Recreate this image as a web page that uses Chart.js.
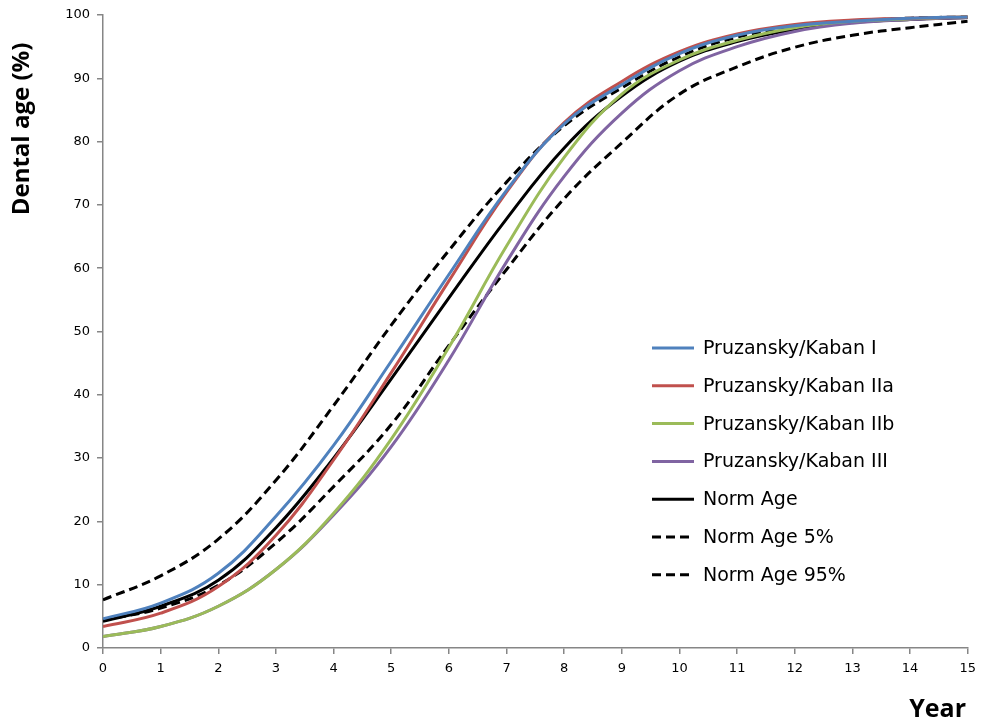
<!DOCTYPE html>
<html lang="en">
<head>
<meta charset="UTF-8">
<title>Dental age</title>
<script src="https://cdn.jsdelivr.net/npm/chart.js"></script>
<style>
  body { margin: 0; background: #fff; }
</style>
</head>
<body>
<canvas id="myChart" width="983" height="723"></canvas>
<script>
// years 0..15
const years = [0, 1, 2, 3, 4, 5, 6, 7, 8, 9, 10, 11, 12, 13, 14, 15];

const kabanI   = [4.6, 7.1, 11.8, 20.8, 32.0, 45.3, 59.0, 72.3, 82.8, 89.0, 93.9, 96.8, 98.3, 99.0, 99.5, 99.7];
const kabanIIa = [3.4, 5.5, 9.7, 17.8, 29.7, 43.5, 58.0, 72.0, 83.0, 89.5, 94.2, 97.0, 98.5, 99.2, 99.5, 99.7];
const kabanIIb = [1.8, 3.4, 6.6, 12.4, 21.3, 33.0, 47.5, 63.5, 77.5, 87.5, 92.9, 96.0, 98.0, 99.0, 99.4, 99.7];
const kabanIII = [1.8, 3.4, 6.6, 12.4, 21.0, 31.8, 45.5, 61.0, 74.5, 84.5, 91.2, 95.0, 97.4, 98.7, 99.3, 99.6];
const normAge  = [4.2, 6.6, 10.7, 19.0, 30.0, 42.5, 55.3, 67.8, 79.0, 87.2, 92.7, 95.8, 97.7, 98.8, 99.3, 99.6];
const norm5    = [7.6, 11.4, 17.2, 26.5, 38.3, 51.0, 62.8, 73.6, 82.5, 88.5, 93.4, 96.5, 98.1, 99.0, 99.5, 99.7];
const norm95   = [4.4, 6.3, 9.9, 16.6, 25.5, 35.3, 47.8, 59.8, 71.0, 79.8, 87.5, 91.8, 94.9, 96.8, 98.0, 99.0];

const pts = arr => arr.map((v, i) => ({ x: years[i], y: v }));
const axisGray = '#868686';

function series(label, data, color, dashed) {
    return {
        label: label,
        data: pts(data),
        borderColor: color,
        backgroundColor: color,
        borderWidth: 3,
        borderDash: dashed ? [9, 5] : [],
        pointRadius: 0,
        tension: 0.4,
        fill: false
    };
}

// draws the legend inside the plot and the two bold axis titles
const extras = {
    id: 'extras',
    afterDraw(chart) {
        const ctx = chart.ctx;
        ctx.save();
        chart.data.datasets.forEach((ds, i) => {
            const y = 348 + i * 37.8;
            ctx.beginPath();
            ctx.strokeStyle = ds.borderColor;
            ctx.lineWidth = 3;
            ctx.setLineDash(ds.borderDash.length ? [9, 5] : []);
            ctx.moveTo(652, y);
            ctx.lineTo(694, y);
            ctx.stroke();
            ctx.setLineDash([]);
            ctx.fillStyle = '#000';
            ctx.font = '19px "DejaVu Sans"';
            ctx.textAlign = 'left';
            ctx.textBaseline = 'middle';
            ctx.fillText(ds.label, 703, y + 1);
        });

        ctx.font = 'bold 25px "Open Sans"';
        ctx.fillStyle = '#000';
        ctx.textAlign = 'right';
        ctx.textBaseline = 'middle';
        ctx.fillText('Year', 966, 710);

        ctx.translate(22, 129);
        ctx.rotate(-Math.PI / 2);
        ctx.textAlign = 'center';
        ctx.font = 'bold 24px "Open Sans"';
        ctx.fillText('Dental age (%)', 0, 0);
        ctx.restore();
    }
};

const ctx = document.getElementById('myChart').getContext('2d');
new Chart(ctx, {
    type: 'line',
    data: {
        datasets: [
            series('Pruzansky/Kaban I', kabanI, '#4F81BD', false),
            series('Pruzansky/Kaban IIa', kabanIIa, '#C0504D', false),
            series('Pruzansky/Kaban IIb', kabanIIb, '#9BBB59', false),
            series('Pruzansky/Kaban III', kabanIII, '#8064A2', false),
            series('Norm Age', normAge, '#000000', false),
            series('Norm Age 5%', norm5, '#000000', true),
            series('Norm Age 95%', norm95, '#000000', true)
        ]
    },
    options: {
        responsive: false,
        animation: false,
        layout: { padding: { top: 15, right: 15, left: 0, bottom: 0 } },
        plugins: { legend: { display: false }, tooltip: { enabled: false } },
        scales: {
            x: {
                type: 'linear',
                min: 0,
                max: 15,
                afterFit: s => { s.height = 75; },
                border: { color: axisGray, width: 1.5 },
                grid: { drawOnChartArea: false, color: axisGray, tickLength: 6, lineWidth: 1.5 },
                ticks: { stepSize: 1, color: '#000', padding: 7, maxRotation: 0,
                         font: { family: 'DejaVu Sans', size: 13 } }
            },
            y: {
                min: 0,
                max: 100,
                afterFit: s => { s.width = 103; },
                border: { color: axisGray, width: 1.5 },
                grid: { drawOnChartArea: false, color: axisGray, tickLength: 6, lineWidth: 1.5 },
                ticks: { stepSize: 10, color: '#000', padding: 7,
                         font: { family: 'DejaVu Sans', size: 13 } }
            }
        }
    },
    plugins: [extras]
});
</script>
</body>
</html>
